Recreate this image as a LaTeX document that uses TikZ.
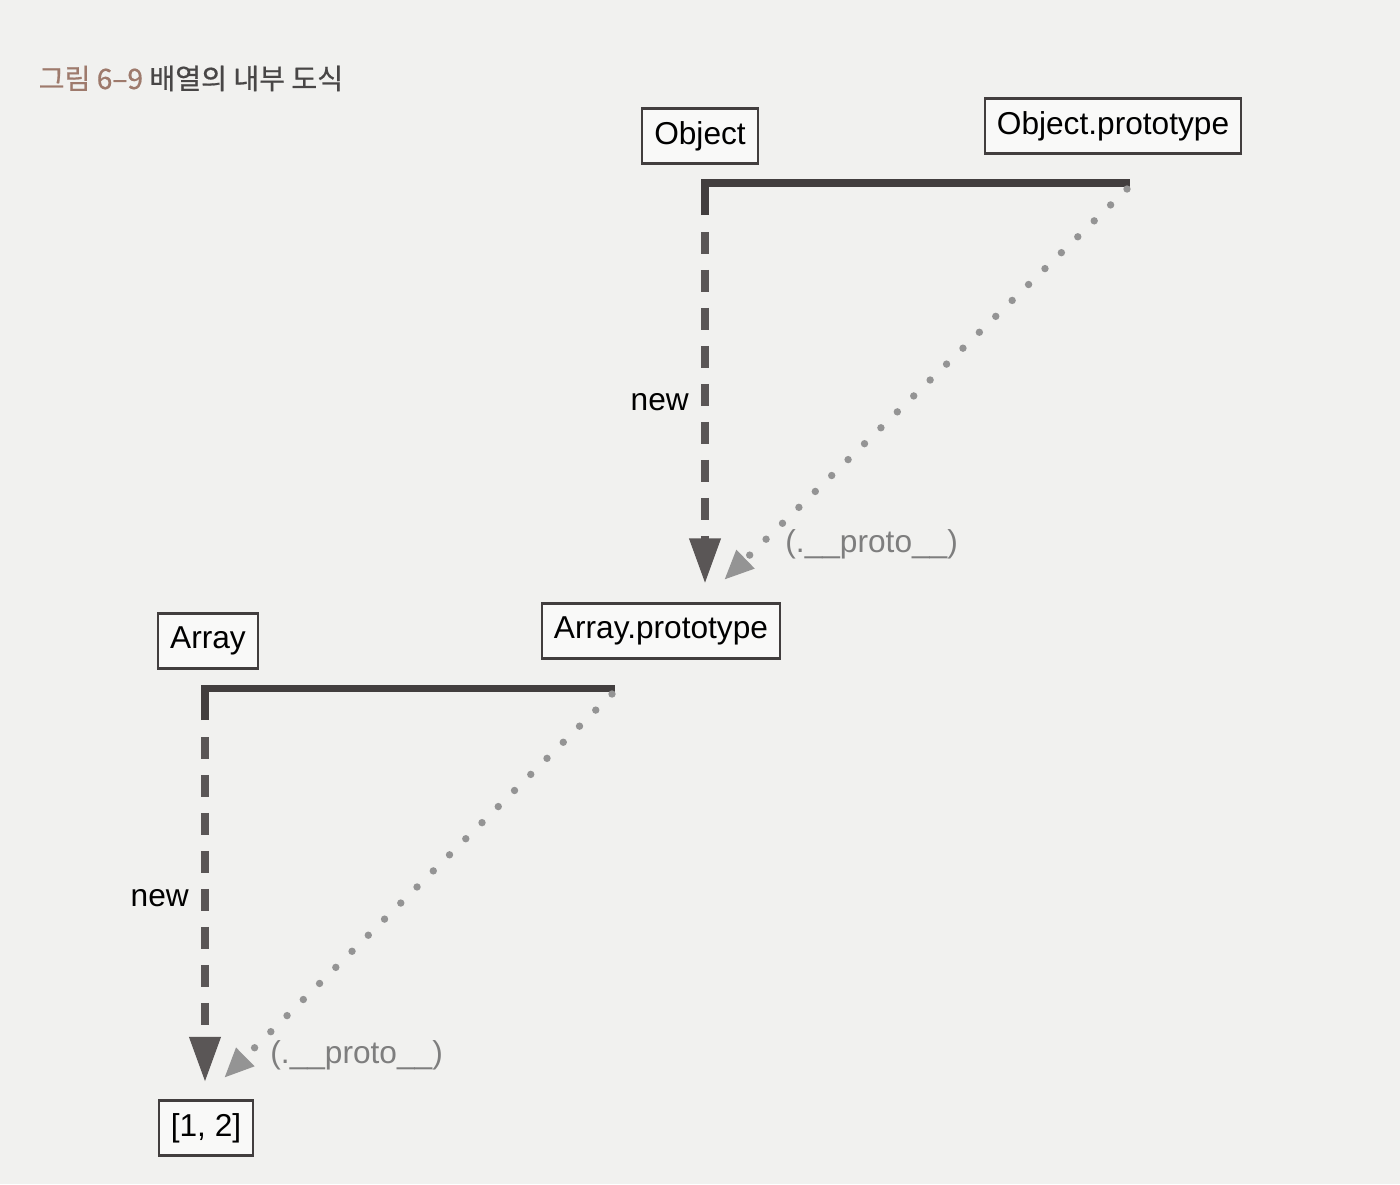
\documentclass[tikz,border=0pt]{standalone}
\usepackage{fontspec}
\setmainfont{Liberation Sans}
\newfontfamily\krfont[FakeBold=0.6]{Noto Sans CJK KR}
\usetikzlibrary{arrows.meta,calc,positioning}
\definecolor{paper}{RGB}{241,241,239}
\definecolor{ink}{RGB}{66,62,62}
\definecolor{dashink}{RGB}{90,86,86}
\definecolor{dotgray}{RGB}{148,148,148}
\definecolor{capbrown}{RGB}{158,122,108}
\definecolor{captext}{RGB}{72,70,70}

\begin{document}
\begin{tikzpicture}[
  x=0.01cm, y=-0.01cm,
  every node/.style={font=\fontsize{9}{11}\selectfont},
  objbox/.style={draw=ink,line width=0.6pt,fill=white!55!paper,minimum height=0.55cm,inner xsep=0.12cm,inner ysep=0pt},
  bar/.style={draw=ink,line width=2pt},
  newline/.style={draw=dashink,line width=2pt,dash pattern=on 6.2pt off 4.6pt,-{Triangle[width=0.3cm,length=0.45cm]}},
  protoline/.style={draw=dotgray,line width=2.1pt,line cap=round,dash pattern=on 0pt off 6.5pt,-{Triangle[width=0.24cm,length=0.3cm]}},
  protolabel/.style={text=dotgray!85!black,anchor=west}
]
  \fill[paper] (0,0) rectangle (1400,1184);
  \useasboundingbox (0,0) rectangle (1400,1184);

  % caption
  \node[anchor=base west,inner sep=0pt,text=captext] (title) at (38,89)
    {\krfont\fontsize{8}{10}\selectfont\textcolor{capbrown}{그림 6–9} 배열의 내부 도식};

  % boxes
  \node[objbox] (obj) at (700,136) {Object};
  \node[objbox] (oproto) at (1113,126) {Object.prototype};
  \node[objbox] (arr) at (208,641) {Array};
  \node[objbox] (aproto) at (661,631) {Array.prototype};
  \node[objbox] (lit) at (206,1128) {[1, 2]};

  % upper level
  \coordinate (ocorner) at (705,183);
  \coordinate (oend) at (1130,183);
  \coordinate (otip) at (724,580);

  \draw[bar] ($(ocorner)+(0,32)$) |- (oend);
  \draw[newline,shorten >=0.19cm] ($(ocorner)+(0,49)$) -- (aproto.north -| ocorner)
    node[pos=0.46,left=0.01cm,text=black] {new};
  \draw[protoline] ($(oend)+(-3,6)$) -- (otip);
  \node[protolabel] (oplabel) at (773,544) {(.\_\_proto\_\_)};

  % lower level
  \coordinate (acorner) at (205,688);
  \coordinate (aend) at (615,688);
  \coordinate (ltip) at (224,1078);

  \draw[bar] ($(acorner)+(0,32)$) |- (aend);
  \draw[newline,shorten >=0.175cm] ($(acorner)+(0,49)$) -- (lit.north -| acorner)
    node[pos=0.445,left=0.01cm,text=black] {new};
  \draw[protoline] ($(aend)+(-3,6)$) -- (ltip);
  \node[protolabel] (aplabel) at (258,1055) {(.\_\_proto\_\_)};
\end{tikzpicture}
\end{document}
